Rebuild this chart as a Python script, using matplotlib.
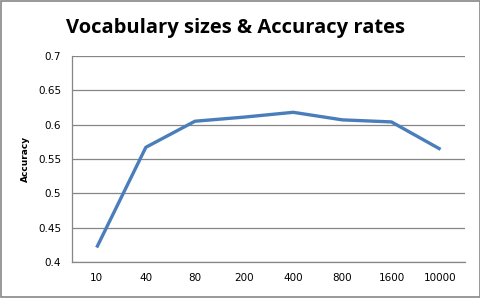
import matplotlib
matplotlib.use("Agg")
import matplotlib.pyplot as plt
from matplotlib.patches import Rectangle

categories = ["10", "40", "80", "200", "400", "800", "1600", "10000"]
accuracy = [0.421, 0.567, 0.605, 0.611, 0.618, 0.607, 0.604, 0.564]
yticks = [0.4, 0.45, 0.5, 0.55, 0.6, 0.65, 0.7]
ytick_labels = ["0.4", "0.45", "0.5", "0.55", "0.6", "0.65", "0.7"]

fig = plt.figure(figsize=(4.81, 2.98), dpi=100)
fig.patches.append(Rectangle((0.002, 0.003), 0.996, 0.994, transform=fig.transFigure,
                             fill=False, edgecolor="#888888", linewidth=1.2))
ax = fig.add_axes([0.15, 0.121, 0.817, 0.691])
x = list(range(len(categories)))
ax.plot(x, accuracy, color="#4A7EBB", linewidth=2.4, solid_capstyle="butt")
ax.set_xlim(-0.5, len(categories) - 0.5)
ax.set_ylim(0.4, 0.7)
ax.set_yticks(yticks)
ax.set_yticklabels(ytick_labels)
ax.set_xticks(x)
ax.set_xticklabels(categories)
ax.grid(axis="y", color="#868686", linewidth=0.9)
ax.set_axisbelow(True)
for s in ["top", "right"]:
    ax.spines[s].set_visible(False)
for s in ["left", "bottom"]:
    ax.spines[s].set_color("#868686")
    ax.spines[s].set_linewidth(0.9)
ax.tick_params(axis="both", length=0, labelsize=7.5, colors="black")
ax.tick_params(axis="x", pad=8)
ax.tick_params(axis="y", pad=8)
ax.set_ylabel("Accuracy", fontsize=6.5, fontweight="bold", labelpad=6)
fig.text(0.49, 0.905, "Vocabulary sizes & Accuracy rates", ha="center", va="center",
         fontsize=14.5, fontweight="bold", family="Open Sans")
fig.savefig("out.png", dpi=100)
